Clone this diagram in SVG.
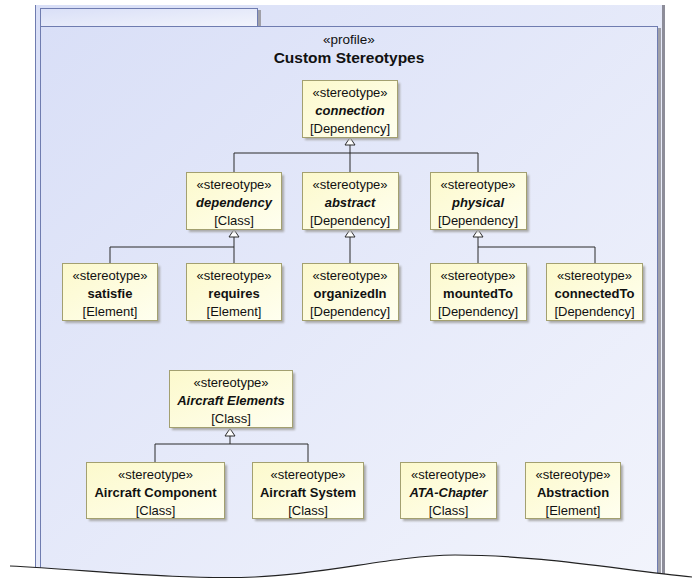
<svg xmlns="http://www.w3.org/2000/svg" width="697" height="578" viewBox="0 0 697 578">
  <defs>
    <linearGradient id="pkgFill" x1="0" y1="0" x2="1" y2="1">
      <stop offset="0" stop-color="#d9dff7"/>
      <stop offset="1" stop-color="#f2f4fc"/>
    </linearGradient>
    <linearGradient id="nodeFill" x1="0" y1="0" x2="1" y2="1">
      <stop offset="0" stop-color="#fcf9cc"/>
      <stop offset="1" stop-color="#fffff0"/>
    </linearGradient>
    <filter id="soft" x="-10%" y="-10%" width="130%" height="130%">
      <feGaussianBlur stdDeviation="0.8"/>
    </filter>
  </defs>
  <style>
    .shadow { fill: #a9a9a9; filter: url(#soft); }
    .box { fill: url(#nodeFill); stroke: #a3a070; stroke-width: 1; }
    text { font-family: "Liberation Sans", Arial, sans-serif; font-size: 13px; fill: #111; text-anchor: middle; }
    .name { font-weight: bold; }
    .abs { font-weight: bold; font-style: italic; }
    .title { font-weight: bold; font-size: 15.5px; }
    .edge { fill: none; stroke: #2a2a2a; stroke-width: 1; }
    .head { fill: #fff; stroke: #2a2a2a; stroke-width: 1; }
  </style>

  <rect width="697" height="578" fill="#fff"/>

  <!-- enclosing frame -->
  <g id="frame">
    <rect x="35" y="5" width="629" height="573" fill="url(#pkgFill)"/>
    <line x1="35.5" y1="5" x2="35.5" y2="578" stroke="#6f7cb0" stroke-width="1"/>
    <rect x="662" y="5" width="3" height="573" fill="#8d8d99"/>
  </g>

  <!-- profile package -->
  <g id="profile-package">
    <rect x="258" y="10" width="3" height="16" fill="#a0a0a8"/>
    <rect x="40.5" y="8.5" width="217" height="18" fill="url(#pkgFill)" stroke="#6f7cb0"/>
    <rect x="658" y="28" width="3" height="550" fill="#a0a0a8"/>
    <rect x="40.5" y="26.5" width="617" height="560" fill="url(#pkgFill)" stroke="#6f7cb0"/>
    <text x="349" y="44" style="font-size:13.5px">«profile»</text>
    <text class="title" x="349" y="63">Custom Stereotypes</text>
  </g>

  <!-- generalization connectors -->
  <g id="connectors">
    <path class="edge" d="M350,145 V172 M234,153 H478 M234,153 V172 M478,153 V172"/>
    <polygon class="head" points="350,137.5 345,145 355,145"/>

    <path class="edge" d="M234,237 V247 M110,247 H234 M110,247 V263 M234,247 V263"/>
    <polygon class="head" points="234,229.5 229,237 239,237"/>

    <path class="edge" d="M350,237 V263"/>
    <polygon class="head" points="350,229.5 345,237 355,237"/>

    <path class="edge" d="M478,237 V247 M478,247 H595 M478,247 V263 M595,247 V263"/>
    <polygon class="head" points="478,229.5 473,237 483,237"/>

    <path class="edge" d="M230,436 V444 M155,444 H308 M155,444 V462 M308,444 V462"/>
    <polygon class="head" points="230,428.5 225,436 235,436"/>
  </g>

  <!-- stereotypes -->
  <g id="connection">
    <rect class="shadow" x="305" y="83" width="95" height="57"/>
    <rect class="box" x="302.5" y="80.5" width="95" height="57"/>
    <text x="350" y="97">«stereotype»</text>
    <text class="abs" x="350" y="115">connection</text>
    <text x="350" y="133">[Dependency]</text>
  </g>

  <g id="dependency">
    <rect class="shadow" x="189" y="175" width="95" height="57"/>
    <rect class="box" x="186.5" y="172.5" width="95" height="57"/>
    <text x="234" y="189">«stereotype»</text>
    <text class="abs" x="234" y="207">dependency</text>
    <text x="234" y="225">[Class]</text>
  </g>

  <g id="abstract">
    <rect class="shadow" x="305" y="175" width="96" height="57"/>
    <rect class="box" x="302.5" y="172.5" width="96" height="57"/>
    <text x="350" y="189">«stereotype»</text>
    <text class="abs" x="350" y="207">abstract</text>
    <text x="350" y="225">[Dependency]</text>
  </g>

  <g id="physical">
    <rect class="shadow" x="433" y="175" width="96" height="57"/>
    <rect class="box" x="430.5" y="172.5" width="96" height="57"/>
    <text x="478" y="189">«stereotype»</text>
    <text class="abs" x="478" y="207">physical</text>
    <text x="478" y="225">[Dependency]</text>
  </g>

  <g id="satisfie">
    <rect class="shadow" x="65" y="266" width="95" height="57"/>
    <rect class="box" x="62.5" y="263.5" width="95" height="57"/>
    <text x="110" y="280">«stereotype»</text>
    <text class="name" x="110" y="298">satisfie</text>
    <text x="110" y="316">[Element]</text>
  </g>

  <g id="requires">
    <rect class="shadow" x="189" y="266" width="95" height="57"/>
    <rect class="box" x="186.5" y="263.5" width="95" height="57"/>
    <text x="234" y="280">«stereotype»</text>
    <text class="name" x="234" y="298">requires</text>
    <text x="234" y="316">[Element]</text>
  </g>

  <g id="organizedIn">
    <rect class="shadow" x="305" y="266" width="96" height="57"/>
    <rect class="box" x="302.5" y="263.5" width="96" height="57"/>
    <text x="350" y="280">«stereotype»</text>
    <text class="name" x="350" y="298">organizedIn</text>
    <text x="350" y="316">[Dependency]</text>
  </g>

  <g id="mountedTo">
    <rect class="shadow" x="433" y="266" width="96" height="57"/>
    <rect class="box" x="430.5" y="263.5" width="96" height="57"/>
    <text x="478" y="280">«stereotype»</text>
    <text class="name" x="478" y="298">mountedTo</text>
    <text x="478" y="316">[Dependency]</text>
  </g>

  <g id="connectedTo">
    <rect class="shadow" x="549" y="266" width="96" height="57"/>
    <rect class="box" x="546.5" y="263.5" width="96" height="57"/>
    <text x="594.5" y="280">«stereotype»</text>
    <text class="name" x="594.5" y="298">connectedTo</text>
    <text x="594.5" y="316">[Dependency]</text>
  </g>

  <g id="aircraft-elements">
    <rect class="shadow" x="172" y="373" width="123" height="57"/>
    <rect class="box" x="169.5" y="370.5" width="123" height="57"/>
    <text x="231" y="387">«stereotype»</text>
    <text class="abs" x="231" y="405">Aircraft Elements</text>
    <text x="231" y="423">[Class]</text>
  </g>

  <g id="aircraft-component">
    <rect class="shadow" x="89" y="465" width="138" height="56"/>
    <rect class="box" x="86.5" y="462.5" width="138" height="56"/>
    <text x="155.5" y="479">«stereotype»</text>
    <text class="name" x="155.5" y="497">Aircraft Component</text>
    <text x="155.5" y="515">[Class]</text>
  </g>

  <g id="aircraft-system">
    <rect class="shadow" x="255" y="465" width="111" height="56"/>
    <rect class="box" x="252.5" y="462.5" width="111" height="56"/>
    <text x="308" y="479">«stereotype»</text>
    <text class="name" x="308" y="497">Aircraft System</text>
    <text x="308" y="515">[Class]</text>
  </g>

  <g id="ata-chapter">
    <rect class="shadow" x="403" y="465" width="96" height="56"/>
    <rect class="box" x="400.5" y="462.5" width="96" height="56"/>
    <text x="448.5" y="479">«stereotype»</text>
    <text class="abs" x="448.5" y="497">ATA-Chapter</text>
    <text x="448.5" y="515">[Class]</text>
  </g>

  <g id="abstraction">
    <rect class="shadow" x="528" y="465" width="95" height="56"/>
    <rect class="box" x="525.5" y="462.5" width="95" height="56"/>
    <text x="573" y="479">«stereotype»</text>
    <text class="name" x="573" y="497">Abstraction</text>
    <text x="573" y="515">[Element]</text>
  </g>

  <!-- torn lower edge -->
  <g id="tear">
    <path d="M10,566 C90,570 180,580 255,577 C330,574 390,556 455,555 C540,555 620,570 692,577 L697,578 L0,578 L0,566 Z" fill="#fff"/>
    <path d="M10,566 C90,570 180,580 255,577 C330,574 390,556 455,555 C540,555 620,570 692,577" fill="none" stroke="#222" stroke-width="1.2"/>
  </g>
</svg>
